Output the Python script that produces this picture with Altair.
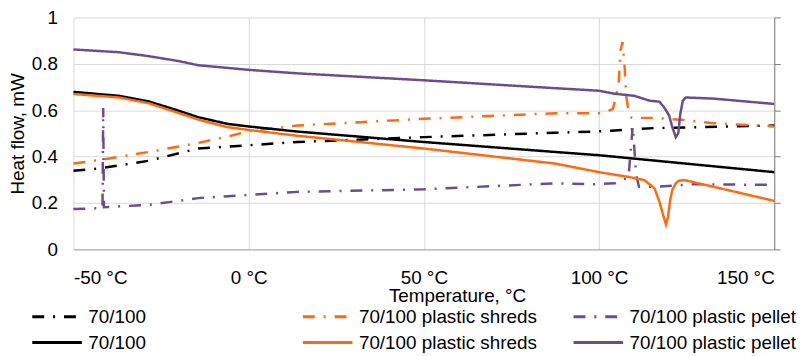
import altair as alt
import pandas as pd

# ---- data ----
# 70/100 (dash-dot)
t_base_dd = [-50, -42.6, -28.5, -14.4, 0, 13.9, 50, 87.5, 98.8, 104.5, 115.8, 150]
v_base_dd = [0.339, 0.349, 0.382, 0.435, 0.449, 0.463, 0.484, 0.503, 0.508, 0.513, 0.523, 0.534]

# 70/100 plastic shreds (dash-dot)
t_shred_dd = [-50, -42.6, -28.5, -14.4, -5, 0, 13.9, 50, 87.5, 100, 101.6, 103.9, 104.7, 105.6,
              106.1, 106.7, 107.3, 107.8, 108.4, 109.3, 115.8, 124.3, 132.7, 150]
v_shred_dd = [0.37, 0.385, 0.42, 0.459, 0.49, 0.51, 0.534, 0.563, 0.587, 0.587, 0.591, 0.605, 0.648, 0.712,
              0.855, 0.894, 0.783, 0.655, 0.598, 0.567, 0.567, 0.558, 0.544, 0.53]

# 70/100 plastic pellet (dash-dot)
t_pellet_dd = [-50, -41.7, -41.5, -41.3, -28.5, -14.4, 0, 13.9, 50, 87.5, 98.8, 104.5, 108.4, 109.0,
               109.6, 110.0, 110.6, 111.4, 115.8, 127.1, 150]
v_pellet_dd = [0.174, 0.178, 0.61, 0.182, 0.192, 0.221, 0.235, 0.248, 0.259, 0.285, 0.281, 0.285, 0.31, 0.42,
               0.53, 0.45, 0.32, 0.27, 0.27, 0.281, 0.278]

# 70/100 (solid)
t_base = [-50, -37, -28.5, -20, -14.4, -6, 0, 13.9, 50, 87.5, 100, 150]
v_base = [0.679, 0.662, 0.638, 0.598, 0.57, 0.541, 0.53, 0.508, 0.463, 0.42, 0.406, 0.333]

# 70/100 plastic shreds (solid)
t_shred = [-50, -37, -28.5, -20, -14.4, -6, 0, 13.9, 50, 87.5, 100, 108.2, 112.9, 115.8, 117.2,
           118.1, 119.1, 119.7, 120.3, 120.9, 121.9, 122.8, 124.3, 132.7, 150]
v_shred = [0.67, 0.655, 0.63, 0.588, 0.56, 0.527, 0.515, 0.49, 0.435, 0.37, 0.333, 0.313, 0.299, 0.264, 0.207,
           0.158, 0.107, 0.142, 0.214, 0.256, 0.285, 0.296, 0.299, 0.27, 0.209]

# 70/100 plastic pellet (solid)
t_pellet = [-50, -37, -28.5, -20, -14.4, -5, 0, 13.9, 50, 87.5, 100, 104.5, 110.1, 114.4, 117.2,
            118.6, 120, 120.9, 121.9, 122.6, 123.2, 123.9, 124.8, 132.7, 150]
v_pellet = [0.862, 0.85, 0.833, 0.812, 0.794, 0.781, 0.774, 0.759, 0.729, 0.695, 0.684, 0.671, 0.662, 0.641, 0.637,
            0.612, 0.577, 0.527, 0.484, 0.5, 0.585, 0.641, 0.655, 0.65, 0.627]

series_keys = ["70/100|dd", "70/100 plastic shreds|dd", "70/100 plastic pellet|dd",
               "70/100|s", "70/100 plastic shreds|s", "70/100 plastic pellet|s"]
series_data = [(t_base_dd, v_base_dd), (t_shred_dd, v_shred_dd), (t_pellet_dd, v_pellet_dd),
               (t_base, v_base), (t_shred, v_shred), (t_pellet, v_pellet)]
colors = ["#000000", "#FF6A10", "#6A4C93", "#000000", "#FF6A10", "#6A4C93"]
DD = [12, 9, 2, 9]
dashes = [DD, DD, DD, [1, 0], [1, 0], [1, 0]]
x_ticks = [-50, 0, 50, 100, 150]
y_ticks = [0, 0.2, 0.4, 0.6, 0.8, 1.0]

rows = []
for key, (ts, vs) in zip(series_keys, series_data):
    for t, v in zip(ts, vs):
        rows.append({"series": key, "T": t, "HF": v})
df = pd.DataFrame(rows)

FONT = "Liberation Sans"

x_enc = alt.X("T:Q", scale=alt.Scale(domain=[-50, 150], nice=False, zero=False),
              axis=alt.Axis(values=x_ticks, labelExpr="datum.value + ' °C'", grid=True,
                            gridColor="#d9d9d9", domainColor="#a6a6a6", ticks=False, tickSize=0,
                            labelPadding=19, labelFontSize=19, labelFont=FONT, labelColor="#000000",
                            title="Temperature, °C", titleFont=FONT, titleFontSize=19,
                            titleFontWeight="normal", titleColor="#000000",
                            titleX=387, titleY=53, titleBaseline="alphabetic", titleAlign="center"))

lines = alt.Chart(df).mark_line(strokeWidth=2.5).encode(
    x=x_enc,
    y=alt.Y("HF:Q", scale=alt.Scale(domain=[0, 1], nice=False),
            axis=alt.Axis(values=y_ticks, format="~g", grid=True, gridColor="#d9d9d9",
                          domain=False, ticks=False, tickSize=0, labelPadding=16,
                          labelFontSize=19, labelFont=FONT, labelColor="#000000",
                          title="Heat flow, mW", titleFont=FONT, titleFontSize=19,
                          titleFontWeight="normal", titleColor="#000000",
                          titleX=-56, titleY=117, titleAngle=-90, titleAlign="center",
                          titleBaseline="middle")),
    color=alt.Color("series:N", scale=alt.Scale(domain=series_keys, range=colors), sort=series_keys,
                    legend=alt.Legend(title=None, orient="none", legendX=-43, legendY=288,
                                      direction="horizontal", columns=3, gridAlign="all",
                                      columnPadding=30, rowPadding=2, padding=0,
                                      symbolType="M-1,0H3", symbolSize=625, symbolStrokeWidth=3,
                                      labelFontSize=19, labelFont=FONT, labelColor="#000000",
                                      labelOffset=30, labelLimit=400,
                                      labelExpr="split(datum.label, '|')[0]")),
    strokeDash=alt.StrokeDash("series:N", scale=alt.Scale(domain=series_keys, range=dashes),
                              sort=series_keys, legend=alt.Legend(title=None)),
    detail="series:N",
)

right_axis = alt.Chart(df).mark_line(opacity=0).encode(
    x=alt.X("T:Q"),
    y=alt.Y("HF:Q", axis=alt.Axis(orient="right", values=y_ticks, labels=False, grid=False,
                                  domain=True, domainColor="#808080", ticks=True, tickSize=6,
                                  tickColor="#808080", title=None)),
)

chart = alt.layer(lines, right_axis).resolve_axis(y="independent").properties(
    width=707, height=234,
    padding={"left": 66, "top": 8, "right": 30, "bottom": 104},
    autosize=alt.AutoSizeParams(type="none"),
).configure_view(stroke=None)

chart.save("out.html", embed_options={"renderer": "svg", "actions": False})
